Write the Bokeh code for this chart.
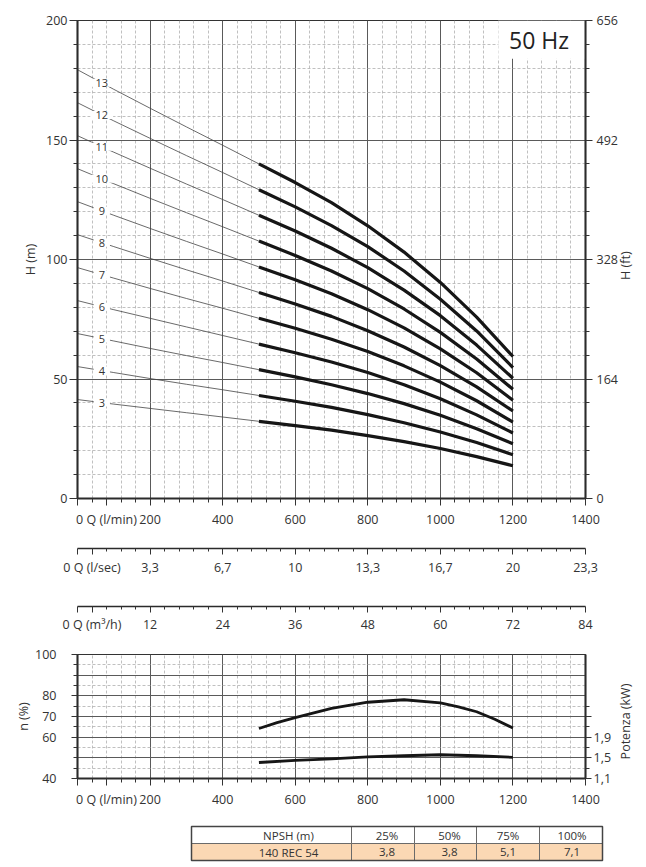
import numpy as np
from bokeh.plotting import figure
from bokeh.models import (Range1d, LinearAxis, FixedTicker, Label, BoxAnnotation,
                          ColumnDataSource)
from bokeh.layouts import column
from bokeh.core.properties import value
from bokeh.embed import file_html
from bokeh.resources import INLINE

FONT = "Open Sans"
TXT = "#333333"

# ------------------------------------------------------------------ data
q_lmin = [0, 100, 200, 300, 400, 500, 600, 700, 800, 900, 1000, 1100, 1200]
stages = [3, 4, 5, 6, 7, 8, 9, 10, 11, 12, 13]
head_3 = [41.4, 39.5, 37.7, 35.9, 34.1, 32.3, 30.5, 28.6, 26.3, 23.8, 20.9, 17.5, 13.7]
head_4 = [55.2, 52.7, 50.2, 47.8, 45.5, 43.1, 40.7, 38.1, 35.1, 31.7, 27.8, 23.4, 18.3]
head_5 = [69.0, 65.9, 62.8, 59.8, 56.9, 53.9, 50.9, 47.6, 43.9, 39.7, 34.8, 29.2, 22.9]
head_6 = [82.8, 79.0, 75.4, 71.8, 68.2, 64.6, 61.0, 57.1, 52.7, 47.6, 41.7, 35.0, 27.4]
head_7 = [96.6, 92.2, 87.9, 83.7, 79.6, 75.4, 71.2, 66.6, 61.5, 55.5, 48.7, 40.9, 32.0]
head_8 = [110.4, 105.4, 100.5, 95.7, 91.0, 86.2, 81.4, 76.2, 70.2, 63.4, 55.6, 46.7, 36.6]
head_9 = [124.2, 118.5, 113.0, 107.6, 102.3, 96.9, 91.5, 85.7, 79.0, 71.4, 62.6, 52.6, 41.1]
head_10 = [138.0, 131.7, 125.6, 119.6, 113.7, 107.7, 101.7, 95.2, 87.8, 79.3, 69.5, 58.4, 45.7]
head_11 = [151.8, 144.9, 138.2, 131.6, 125.1, 118.5, 111.9, 104.7, 96.6, 87.2, 76.5, 64.2, 50.3]
head_12 = [165.6, 158.0, 150.7, 143.5, 136.4, 129.2, 122.0, 114.2, 105.4, 95.2, 83.4, 70.1, 54.8]
head_13 = [179.4, 171.2, 163.3, 155.5, 147.8, 140.0, 132.2, 123.8, 114.1, 103.1, 90.4, 75.9, 59.4]
heads = [head_3, head_4, head_5, head_6, head_7, head_8, head_9, head_10,
         head_11, head_12, head_13]
q_work_min = 500          # start of the working range (thick curves)

q_eff = [500, 550, 600, 700, 800, 900, 1000, 1050, 1100, 1150, 1200]
eff_pct = [64.2, 67.0, 69.5, 73.9, 76.9, 78.1, 76.6, 74.7, 72.3, 68.7, 64.4]
q_pow = [500, 600, 700, 800, 900, 1000, 1100, 1200]
power_kw = [1.41, 1.45, 1.48, 1.52, 1.54, 1.56, 1.54, 1.51]

q_ticks = [0, 200, 400, 600, 800, 1000, 1200, 1400]
lmin_labels = ["", "200", "400", "600", "800", "1000", "1200", "1400"]
lsec_labels = ["", "3,3", "6,7", "10", "13,3", "16,7", "20", "23,3"]
m3h_labels = ["", "12", "24", "36", "48", "60", "72", "84"]
h_m_ticks = [0, 50, 100, 150, 200]
h_ft_ticks = [0, 164, 328, 492, 656]
eff_ticks = [40, 60, 70, 80, 100]
kw_ticks = [1.1, 1.5, 1.9, 2.3]
kw_labels = ["1,1", "1,5", "1,9", ""]

npsh_header = ["NPSH (m)", "25%", "50%", "75%", "100%"]
npsh_row = ["140 REC 54", "3,8", "3,8", "5,1", "7,1"]

# ------------------------------------------------------------------ helpers
q_minor = [v for v in range(0, 1401, 40) if v % 200 != 0]
MAJ_GRID = "#5a5a5a"
MIN_GRID = "#b0b0b0"
LBL_SIZE = "12.5px"


def style_axis(ax, tick_out=7, minor_out=4, standoff=4, lw=2):
    ax.axis_line_color = "#2b2b2b"
    ax.axis_line_width = lw
    ax.major_tick_in = 0
    ax.major_tick_out = tick_out
    ax.minor_tick_in = 0
    ax.minor_tick_out = minor_out
    ax.major_tick_line_color = "#333333"
    ax.minor_tick_line_color = "#333333"
    ax.major_label_text_font = FONT
    ax.major_label_text_font_size = LBL_SIZE
    ax.major_label_text_color = TXT
    ax.major_label_standoff = standoff
    ax.axis_label_text_font = FONT
    ax.axis_label_text_font_size = "12.5px"
    ax.axis_label_text_font_style = "normal"
    ax.axis_label_text_color = TXT


def title_axis(ax, text, standoff):
    ax.axis_label = text
    ax.axis_label_standoff = standoff


def right_title(p, range_name, at, text, standoff):
    """A bare right-hand axis whose single tick label, read bottom-to-top, is the title."""
    ax = LinearAxis(y_range_name=range_name, ticker=FixedTicker(ticks=[at], minor_ticks=[]),
                    major_label_overrides={at: text})
    style_axis(ax, tick_out=0, minor_out=0, standoff=standoff)
    ax.axis_line_color = None
    ax.major_tick_line_color = None
    ax.minor_tick_line_color = None
    ax.major_label_orientation = np.pi / 2
    p.add_layout(ax, "right")


def q_axis(ax, labels, name, name_at):
    ticks = sorted(q_ticks + [name_at])
    lab = dict(zip(q_ticks, labels))
    lab[name_at] = name
    ax.ticker = FixedTicker(ticks=ticks, minor_ticks=q_minor)
    ax.major_label_overrides = lab


def style_grid(p, xt, yt):
    p.xgrid.ticker = xt
    p.ygrid.ticker = yt
    for g in (p.xgrid, p.ygrid):
        g.grid_line_color = MAJ_GRID
        g.grid_line_width = 1
        g.minor_grid_line_color = MIN_GRID
        g.minor_grid_line_width = 0.8
        g.minor_grid_line_dash = "3 2"


# ------------------------------------------------------------------ main chart
p1 = figure(frame_width=508, frame_height=478, min_border_left=75, min_border_right=57,
            min_border_top=20, min_border_bottom=32,
            x_range=Range1d(0, 1400), y_range=Range1d(0, 200),
            output_backend="svg", toolbar_location=None)
p1.outline_line_color = "#333333"
p1.outline_line_width = 1.2
h_minor = [v for v in range(0, 201, 10) if v % 50]
style_grid(p1, FixedTicker(ticks=q_ticks, minor_ticks=q_minor),
           FixedTicker(ticks=h_m_ticks, minor_ticks=h_minor))

q_axis(p1.xaxis[0], lmin_labels, "0 Q (l/min)", 80)
p1.yaxis.ticker = FixedTicker(ticks=h_m_ticks, minor_ticks=h_minor)
style_axis(p1.xaxis[0], tick_out=7, minor_out=4, standoff=5)
style_axis(p1.yaxis[0], tick_out=8, minor_out=4, standoff=2)
title_axis(p1.yaxis[0], "H (m)", 4)

p1.extra_y_ranges = {"ft": Range1d(0, 656)}
ft_axis = LinearAxis(y_range_name="ft",
                     ticker=FixedTicker(ticks=h_ft_ticks,
                                        minor_ticks=[32.8 * k for k in range(21) if k % 5]))
style_axis(ft_axis, tick_out=7, minor_out=4, standoff=4)
p1.add_layout(ft_axis, "right")
right_title(p1, "ft", 300, "H (ft)", 5)

hz_box = BoxAnnotation(left=1160, right=1400, bottom=184, top=200, fill_color="white",
                       fill_alpha=1, line_color=None, level="underlay")
p1.add_layout(hz_box)
p1.add_layout(Label(x=1272, y=192, text="50 Hz", text_align="center",
                    text_baseline="middle", text_font=FONT, text_font_size="23px",
                    text_color="#222222"))

q_arr = np.array(q_lmin)
lab_x, lab_y, lab_t = [], [], []
for n, h in zip(stages, heads):
    h = np.array(h)
    thin = q_arr <= q_work_min
    thick = q_arr >= q_work_min
    p1.line(q_arr[thin], h[thin], line_color="#444444", line_width=0.8)
    p1.line(q_arr[thick], h[thick], line_color="#161616", line_width=3.2,
            line_join="round")
    lab_x.append(67)
    lab_y.append(float(np.interp(67, q_arr, h)))
    lab_t.append(str(n))
p1.text(x="x", y="y", text="t",
        source=ColumnDataSource(dict(x=lab_x, y=lab_y, t=lab_t)),
        text_font=value(FONT), text_font_size="11px", text_color=TXT,
        text_align="center", text_baseline="middle",
        background_fill_color="white", padding=(5, 0))


# ------------------------------------------------------------------ extra Q axes
def q_axis_fig(labels, name, name_at, top=17, bottom=40, standoff=3):
    f = figure(frame_width=508, frame_height=1, min_border_left=75, min_border_right=57,
               min_border_top=top, min_border_bottom=bottom,
               x_range=Range1d(0, 1400), y_range=Range1d(0, 1),
               y_axis_location=None, output_backend="svg", toolbar_location=None)
    f.outline_line_color = None
    f.grid.visible = False
    q_axis(f.xaxis[0], labels, name, name_at)
    style_axis(f.xaxis[0], tick_out=6, minor_out=3, standoff=standoff, lw=1.3)
    return f


p2 = q_axis_fig(lsec_labels, "0 Q (l/sec)", 40, standoff=4)
p3 = q_axis_fig(m3h_labels, "0 Q (m³/h)", 40, top=17, bottom=34, standoff=3)

# ------------------------------------------------------------------ efficiency / power
p4 = figure(frame_width=508, frame_height=124, min_border_left=77, min_border_right=55,
            min_border_top=14, min_border_bottom=34,
            x_range=Range1d(0, 1400), y_range=Range1d(40, 100),
            output_backend="svg", toolbar_location=None)
p4.outline_line_color = "#333333"
p4.outline_line_width = 1.2
style_grid(p4, FixedTicker(ticks=q_ticks, minor_ticks=q_minor),
           FixedTicker(ticks=list(range(40, 101, 10)), minor_ticks=list(range(45, 100, 10))))
q_axis(p4.xaxis[0], lmin_labels, "0 Q (l/min)", 80)
p4.yaxis.ticker = FixedTicker(ticks=eff_ticks, minor_ticks=[45, 50, 55, 65, 75, 85, 90, 95])
style_axis(p4.xaxis[0], tick_out=7, minor_out=4, standoff=5)
style_axis(p4.yaxis[0], tick_out=6, minor_out=4, standoff=15)
title_axis(p4.yaxis[0], "n (%)", 0)

p4.extra_y_ranges = {"kw": Range1d(1.1, 3.5)}
kw_axis = LinearAxis(y_range_name="kw",
                     ticker=FixedTicker(ticks=kw_ticks, minor_ticks=[1.3, 1.7, 2.1, 2.5]),
                     major_label_overrides=dict(zip(kw_ticks, kw_labels)))
style_axis(kw_axis, tick_out=6, minor_out=4, standoff=2)
p4.add_layout(kw_axis, "right")
right_title(p4, "kw", 1.47, "Potenza (kW)", 11)

p4.line(q_eff, eff_pct, line_color="#161616", line_width=2.8, line_join="round")
p4.line(q_pow, power_kw, y_range_name="kw", line_color="#161616", line_width=2.8,
        line_join="round")

# ------------------------------------------------------------------ NPSH table
col_edges = [114, 274, 337, 399, 462, 525]
row_edges = [14, 31, 48]
p5 = figure(frame_width=640, frame_height=50, min_border=0,
            x_range=Range1d(0, 640), y_range=Range1d(50, 0),
            x_axis_location=None, y_axis_location=None,
            output_backend="svg", toolbar_location=None)
p5.outline_line_color = None
p5.grid.visible = False
left = col_edges[:-1] * 2
right = col_edges[1:] * 2
top = [row_edges[0]] * 5 + [row_edges[1]] * 5
bottom = [row_edges[1]] * 5 + [row_edges[2]] * 5
fills = ["white"] * 5 + ["#fbd8b4"] * 5
p5.quad(left=left, right=right, top=top, bottom=bottom, fill_color=fills,
        line_color="#6a6a6a", line_width=1)
p5.quad(left=[col_edges[0]], right=[col_edges[-1]], top=[row_edges[0]],
        bottom=[row_edges[-1]], fill_color=None, line_color="#444444", line_width=1.5)
cx = [(a + b) / 2 for a, b in zip(col_edges[:-1], col_edges[1:])]
xoff = [17, 4, 4, 0, 1]
p5.text(x=cx * 2, y=[(row_edges[0] + row_edges[1]) / 2] * 5 + [(row_edges[1] + row_edges[2]) / 2] * 5,
        text=npsh_header + npsh_row, x_offset=xoff * 2,
        text_font=value(FONT), text_font_size="11.5px", text_color=TXT,
        text_align="center", text_baseline="middle")

layout = column(p1, p2, p3, p4, p5, spacing=0)
open("out.html", "w").write(file_html(layout, INLINE))
